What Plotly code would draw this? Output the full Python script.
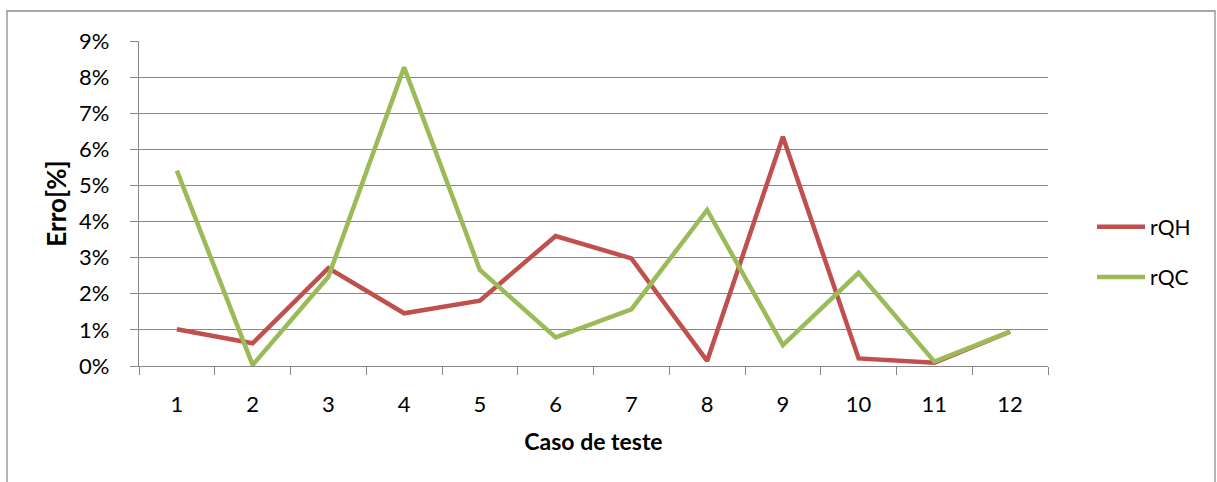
import plotly.graph_objects as go

categories = ["1", "2", "3", "4", "5", "6", "7", "8", "9", "10", "11", "12"]
rQH = [1.02, 0.63, 2.71, 1.46, 1.81, 3.60, 2.98, 0.14, 6.35, 0.21, 0.09, 0.95]
rQC = [5.41, 0.03, 2.47, 8.27, 2.66, 0.79, 1.57, 4.32, 0.58, 2.58, 0.12, 0.95]
y_ticks = [0, 1, 2, 3, 4, 5, 6, 7, 8, 9]
y_tick_labels = [f"{v}%" for v in y_ticks]

FONT = "Lato, 'Open Sans', sans-serif"
GRID = "#868686"

fig = go.Figure()
fig.add_trace(go.Scatter(x=categories, y=rQH, mode="lines", name="rQH",
                         line=dict(color="#C0504D", width=4.5),
                         legendgroup="a"))
fig.add_trace(go.Scatter(x=categories, y=rQC, mode="lines", name="rQC",
                         line=dict(color="#9BBB59", width=4.5),
                         legendgroup="b"))

L, R, T, B = 139, 1048, 41, 366
W, H = 1217, 482
pw, ph = R - L, B - T

fig.update_layout(
    width=W, height=H,
    margin=dict(l=L, r=W - R, t=T, b=H - B, autoexpand=False),
    paper_bgcolor="white", plot_bgcolor="white",
    font=dict(family=FONT, color="black", size=21),
    xaxis=dict(
        type="category", tickson="boundaries", ticks="outside", ticklen=8,
        tickcolor=GRID, tickwidth=1.3, showgrid=False, showline=True,
        linecolor=GRID, linewidth=1.3, tickfont=dict(size=22),
        ticklabelstandoff=18,
        title=dict(text="<b>Caso de teste</b>", font=dict(size=23), standoff=18),
        range=[-0.5, 11.5], fixedrange=True,
    ),
    yaxis=dict(
        range=[0, 9], tickvals=y_ticks, ticktext=y_tick_labels,
        ticks="outside", ticklen=8, tickcolor=GRID, tickwidth=1.3,
        showgrid=True, gridcolor=GRID, gridwidth=1.3,
        showline=True, linecolor=GRID, linewidth=1.3, zeroline=False,
        tickfont=dict(size=22), ticklabelstandoff=16,
        title=dict(text="<b>Erro[%]</b>", font=dict(size=26), standoff=4),
        fixedrange=True,
    ),
    legend=dict(
        x=(1092 - L) / pw, xanchor="left", y=(B - 252) / ph, yanchor="middle",
        font=dict(size=21), traceorder="grouped", tracegroupgap=20,
        bgcolor="rgba(0,0,0,0)", itemwidth=48,
    ),
    shapes=[dict(
        type="rect", xref="paper", yref="paper",
        x0=(7 - L) / pw, x1=(1215 - L) / pw,
        y0=(B - 520) / ph, y1=(B - 11) / ph,
        line=dict(color="#8c8c8c", width=1.3), fillcolor="rgba(0,0,0,0)",
        layer="below",
    )],
)

fig.write_html("out.html", config={"displayModeBar": False},
               post_script="document.body.style.margin='0px';document.body.style.overflow='hidden';")
